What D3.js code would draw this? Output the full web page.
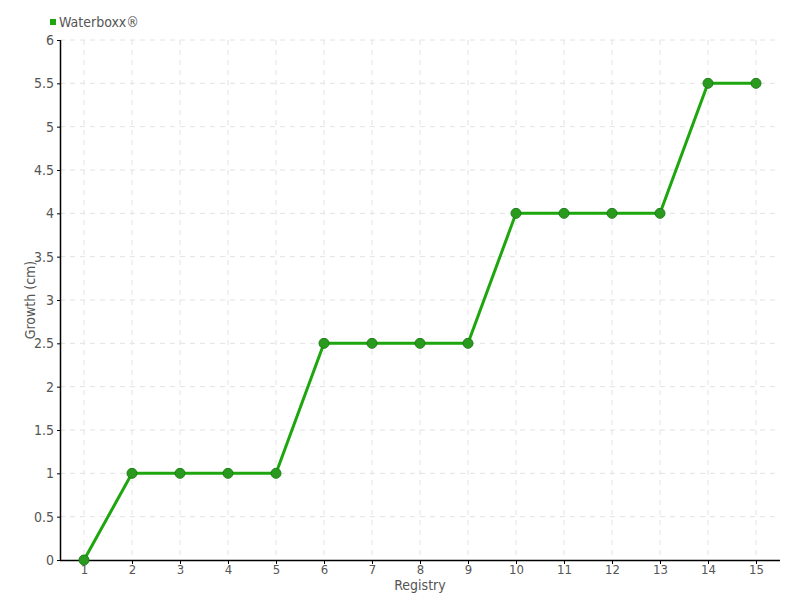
<!DOCTYPE html>
<html><head><meta charset="utf-8">
<script src="https://cdn.jsdelivr.net/npm/d3@7"></script>
<style>body{margin:0;background:#fff}svg text{font-family:"DejaVu Sans Condensed","Liberation Sans Narrow",sans-serif;fill:#555}</style>
</head><body><svg id="c" width="800" height="600"></svg>
<script>
const categories = ["1","2","3","4","5","6","7","8","9","10","11","12","13","14","15"];
const values = [0,1,1,1,1,2.5,2.5,2.5,2.5,4,4,4,4,5.5,5.5];
const yTicks = [0,0.5,1,1.5,2,2.5,3,3.5,4,4.5,5,5.5,6];
const seriesName = "Waterboxx®";

const svg = d3.select("#c");
const L=60,R=780,T=40,B=560;
const x = d3.scalePoint().domain(categories).range([L,R]).padding(0.5);
const y = d3.scaleLinear().domain([0,6]).range([B,T]);

// grid
const g = svg.append("g");
g.selectAll("line.h").data(yTicks.filter(d=>d>0)).join("line")
 .attr("x1",L).attr("x2",R).attr("y1",d=>y(d)).attr("y2",d=>y(d))
 .attr("stroke","#e2e2e2").attr("stroke-dasharray","5,5");
g.selectAll("line.v").data(categories).join("line")
 .attr("x1",d=>x(d)).attr("x2",d=>x(d)).attr("y1",T).attr("y2",B)
 .attr("stroke","#e2e2e2").attr("stroke-dasharray","5,5");

// axes
const ya = svg.append("g").attr("transform",`translate(${L},0)`)
 .call(d3.axisLeft(y).tickValues(yTicks).tickSize(3).tickSizeOuter(0).tickFormat(d=>String(d)));
const xa = svg.append("g").attr("transform",`translate(0,${B})`)
 .call(d3.axisBottom(x).tickSize(4).tickSizeOuter(0));
[ya,xa].forEach(a=>{a.select(".domain").attr("stroke","#000").attr("stroke-width",1.5);
 a.selectAll(".tick line").attr("stroke","#000");
 a.selectAll("text").attr("font-size",14).style("fill","#555");});
xa.select(".domain").attr("d",`M${L},0.5H${R}`);
ya.select(".domain").attr("d",`M0.5,${T}V${B}`);
xa.selectAll("text").attr("font-size",13).attr("y",5).attr("dy","0.71em");

// line
svg.append("path").datum(values)
 .attr("d",d3.line().x((d,i)=>x(categories[i])).y(d=>y(d)))
 .attr("fill","none").attr("stroke","#1ea60e").attr("stroke-width",3);
svg.selectAll("circle.p").data(values).join("circle")
 .attr("cx",(d,i)=>x(categories[i])).attr("cy",d=>y(d)).attr("r",5)
 .attr("fill","#2a9a1f").attr("stroke","#1c7f16").attr("stroke-width",1);

// labels
svg.append("text").attr("x",(L+R)/2).attr("y",590).attr("text-anchor","middle")
 .attr("font-size",14).text("Registry");
svg.append("text").attr("transform","translate(35,300) rotate(-90)").attr("text-anchor","middle")
 .attr("font-size",14).text("Growth (cm)");

// legend
svg.append("rect").attr("x",50).attr("y",19).attr("width",6).attr("height",6).attr("fill","#1ea60e");
svg.append("text").attr("x",59).attr("y",27).attr("font-size",14).text(seriesName);
</script></body></html>
